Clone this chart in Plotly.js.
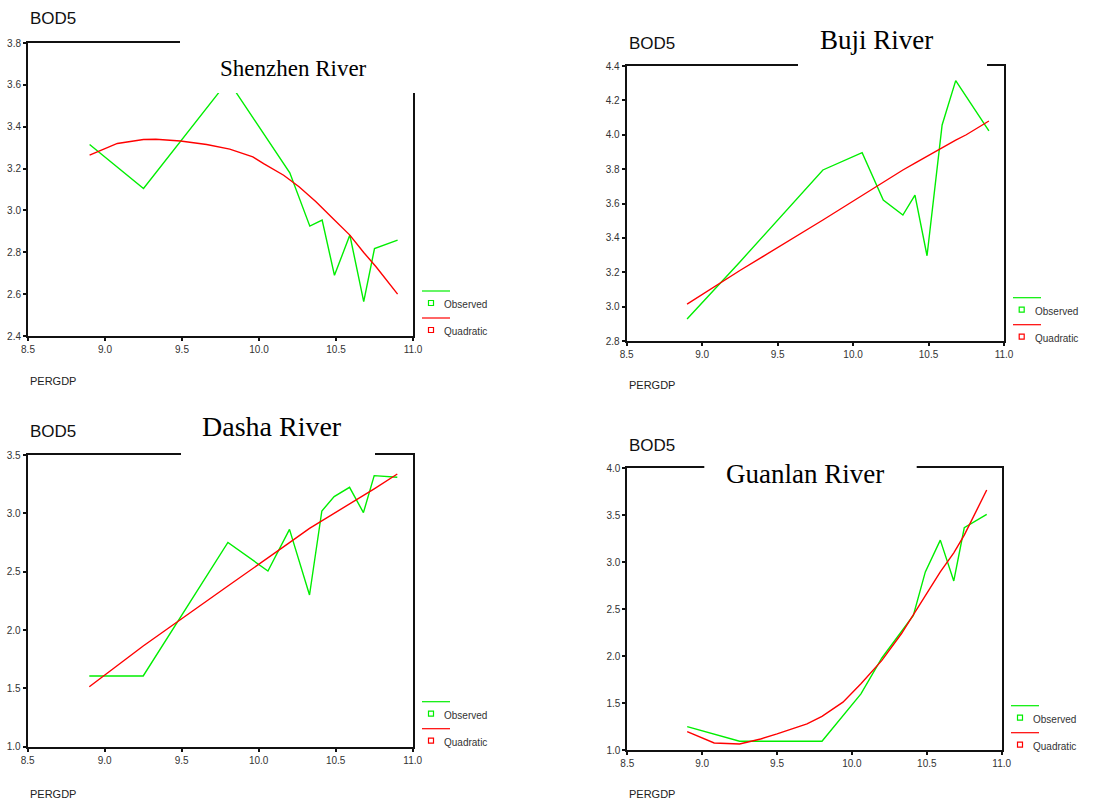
<!DOCTYPE html>
<html>
<head>
<meta charset="utf-8">
<script src="https://cdn.plot.ly/plotly-3.0.1.min.js"></script>
<style>html,body{margin:0;padding:0;background:#fff;}#chart{width:1098px;height:801px;}</style>
</head>
<body>
<div id="chart"></div>
<script>
// ---- data ----
const perGdp = [8.90, 9.25, 9.80, 10.06, 10.20, 10.33, 10.41, 10.49, 10.59, 10.68, 10.75, 10.90];

const shenzhenObserved = [3.315, 3.105, 3.62, 3.33, 3.18, 2.925, 2.954, 2.69, 2.882, 2.564, 2.818, 2.858];
const shenzhenQuadX = [8.90, 9.08, 9.25, 9.33, 9.49, 9.66, 9.81, 9.96, 10.03, 10.16, 10.26, 10.37, 10.48, 10.59, 10.68, 10.76, 10.90];
const shenzhenQuadY = [3.264, 3.320, 3.339, 3.340, 3.332, 3.315, 3.293, 3.256, 3.224, 3.168, 3.113, 3.041, 2.962, 2.882, 2.799, 2.731, 2.600];

const bujiObserved = [2.928, 3.26, 3.795, 3.896, 3.62, 3.533, 3.649, 3.296, 4.057, 4.315, 4.222, 4.022];
const bujiQuadratic = [3.015, 3.21, 3.504, 3.649, 3.727, 3.795, 3.835, 3.875, 3.921, 3.969, 4.00, 4.08];

const dashaObserved = [1.606, 1.606, 2.751, 2.506, 2.863, 2.30, 3.02, 3.143, 3.223, 3.006, 3.323, 3.309];
const dashaQuadratic = [1.514, 1.863, 2.377, 2.614, 2.749, 2.871, 2.935, 3.0, 3.08, 3.157, 3.21, 3.337];

const guanlanObserved = [1.249, 1.093, 1.093, 1.598, 1.98, 2.256, 2.434, 2.897, 3.235, 2.80, 3.367, 3.509];
const guanlanQuadX = [8.90, 9.08, 9.25, 9.39, 9.50, 9.70, 9.80, 9.94, 10.06, 10.20, 10.33, 10.41, 10.49, 10.59, 10.68, 10.75, 10.90];
const guanlanQuadY = [1.196, 1.075, 1.064, 1.117, 1.171, 1.278, 1.359, 1.509, 1.705, 1.954, 2.238, 2.445, 2.641, 2.897, 3.10, 3.288, 3.769];

const riverNames = ["Shenzhen River", "Buji River", "Dasha River", "Guanlan River"];
const yTitle = "BOD5";
const xTitle = "PERGDP";
const legendLabels = ["Observed", "Quadratic"];

// ---- layout helpers ----
const W = 1098, H = 801;
const px = x => x / W;
const py = y => 1 - y / H;
const GREEN = "#00ee00", RED = "#ff0000";

const panels = [
  {x0: 28, x1: 413, y0: 43, y1: 336, yr: [2.4, 3.8], dt: 0.2,
   obsX: perGdp, obsY: shenzhenObserved, qX: shenzhenQuadX, qY: shenzhenQuadY,
   title: {x: 293, y: 69, size: 23}, bod: {x: 28, y: 18}, gdp: {x: 28, y: 381},
   cover: [180, 25, 425, 93], leg: {lx0: 422, lx1: 450, gy: 291, sx: 431, tx: 442}},
  {x0: 626.7, x1: 1004, y0: 66, y1: 341, yr: [2.8, 4.4], dt: 0.2,
   obsX: perGdp, obsY: bujiObserved, qX: perGdp, qY: bujiQuadratic,
   title: {x: 876, y: 40, size: 27}, bod: {x: 627, y: 43}, gdp: {x: 627, y: 385},
   cover: [798, 20, 987, 69], leg: {lx0: 1013, lx1: 1041, gy: 297.7, sx: 1021.7, tx: 1033}},
  {x0: 27.7, x1: 412.7, y0: 455, y1: 746.7, yr: [1.0, 3.5], dt: 0.5,
   obsX: perGdp, obsY: dashaObserved, qX: perGdp, qY: dashaQuadratic,
   title: {x: 271.5, y: 426.7, size: 28}, bod: {x: 28, y: 431}, gdp: {x: 28, y: 794},
   cover: [181, 405, 375, 458], leg: {lx0: 422, lx1: 450, gy: 701.7, sx: 431, tx: 442}},
  {x0: 627.3, x1: 1001.7, y0: 468.3, y1: 750, yr: [1.0, 4.0], dt: 0.5,
   obsX: perGdp, obsY: guanlanObserved, qX: guanlanQuadX, qY: guanlanQuadY,
   title: {x: 805, y: 474.3, size: 27}, bod: {x: 627, y: 445}, gdp: {x: 627, y: 794},
   cover: [704.3, 455, 916.7, 492], leg: {lx0: 1011, lx1: 1039, gy: 705.7, sx: 1020, tx: 1031}}
];

const traces = [];
const shapes = [];
const annotations = [];
const layout = {
  width: W, height: H,
  margin: {l: 0, r: 0, t: 0, b: 0},
  paper_bgcolor: "#fff", plot_bgcolor: "#fff",
  showlegend: false,
  font: {family: "Liberation Sans, Arial, sans-serif", size: 10, color: "#222"}
};

panels.forEach((p, i) => {
  const n = i + 1;
  const xa = "x" + (n === 1 ? "" : n), ya = "y" + (n === 1 ? "" : n);
  const axCommon = {
    showline: true, linecolor: "#111", linewidth: 2, mirror: true,
    showgrid: false, zeroline: false, ticks: "outside", ticklen: 3, tickwidth: 2,
    tickcolor: "#111", tickformat: ".1f", fixedrange: true,
    tickfont: {family: "Liberation Sans, Arial, sans-serif", size: 10, color: "#333"}
  };
  layout["xaxis" + (n === 1 ? "" : n)] = Object.assign({}, axCommon, {
    domain: [px(p.x0), px(p.x1)], range: [8.5, 11.0], dtick: 0.5, tick0: 8.5,
    anchor: ya
  });
  layout["yaxis" + (n === 1 ? "" : n)] = Object.assign({}, axCommon, {
    domain: [py(p.y1), py(p.y0)], range: p.yr, dtick: p.dt, tick0: p.yr[0],
    anchor: xa
  });
  traces.push({x: p.obsX, y: p.obsY, xaxis: xa, yaxis: ya, type: "scatter", mode: "lines",
    line: {color: GREEN, width: 1.4}, name: legendLabels[0], hoverinfo: "skip"});
  traces.push({x: p.qX, y: p.qY, xaxis: xa, yaxis: ya, type: "scatter", mode: "lines",
    line: {color: RED, width: 1.4}, name: legendLabels[1], hoverinfo: "skip"});

  // white box behind the title (hides part of the frame, as in the reference)
  shapes.push({type: "rect", xref: "paper", yref: "paper", layer: "above",
    x0: px(p.cover[0]), x1: px(p.cover[2]), y0: py(p.cover[3]), y1: py(p.cover[1]),
    fillcolor: "#fff", line: {width: 0}});

  annotations.push({xref: "paper", yref: "paper", x: px(p.title.x), y: py(p.title.y),
    xanchor: "center", yanchor: "middle", showarrow: false, text: riverNames[i],
    font: {family: "Liberation Serif, Times New Roman, serif", size: p.title.size, color: "#000"}});
  annotations.push({xref: "paper", yref: "paper", x: px(p.bod.x), y: py(p.bod.y),
    xanchor: "left", yanchor: "middle", showarrow: false, text: yTitle,
    font: {family: "Liberation Sans, Arial, sans-serif", size: 17, color: "#111"}});
  annotations.push({xref: "paper", yref: "paper", x: px(p.gdp.x), y: py(p.gdp.y),
    xanchor: "left", yanchor: "middle", showarrow: false, text: xTitle,
    font: {family: "Liberation Sans, Arial, sans-serif", size: 11, color: "#222"}});

  // SPSS-style legend
  const L = p.leg;
  const rows = [{c: GREEN, ly: L.gy, t: legendLabels[0]}, {c: RED, ly: L.gy + 27, t: legendLabels[1]}];
  rows.forEach(r => {
    shapes.push({type: "line", xref: "paper", yref: "paper", layer: "above",
      x0: px(L.lx0), x1: px(L.lx1), y0: py(r.ly), y1: py(r.ly), line: {color: r.c, width: 1.2}});
    const sy = r.ly + 12;
    shapes.push({type: "rect", xref: "paper", yref: "paper", layer: "above",
      x0: px(L.sx - 2.5), x1: px(L.sx + 2.5), y0: py(sy + 2.5), y1: py(sy - 2.5),
      line: {color: r.c, width: 1.2}, fillcolor: "rgba(0,0,0,0)"});
    annotations.push({xref: "paper", yref: "paper", x: px(L.tx), y: py(sy + 1.5),
      xanchor: "left", yanchor: "middle", showarrow: false, text: r.t,
      font: {family: "Liberation Sans, Arial, sans-serif", size: 10, color: "#333"}});
  });
});

layout.shapes = shapes;
layout.annotations = annotations;

Plotly.newPlot("chart", traces, layout, {staticPlot: true, displayModeBar: false});
</script>
</body>
</html>
